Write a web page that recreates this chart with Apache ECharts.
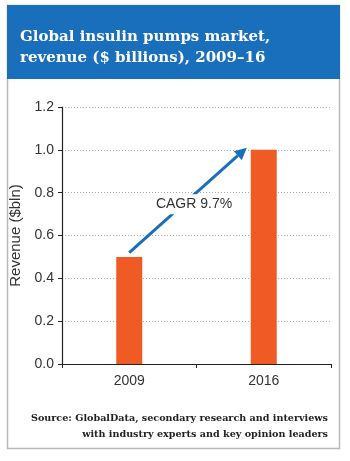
<!DOCTYPE html>
<html>
<head>
<meta charset="utf-8">
<script src="https://cdn.jsdelivr.net/npm/echarts@6/dist/echarts.min.js"></script>
<style>
html, body { margin: 0; padding: 0; background: #fff; }
#chart { width: 350px; height: 461px; }
</style>
</head>
<body>
<div id="chart"></div>
<script>
// data
var years = ['2009', '2016'];
var revenue = [0.5, 1.0];
var cagrLabel = 'CAGR 9.7%';
var arrowFrom = ['2009', 0.52];
var arrowTo = ['2016', 1.01];

var chart = echarts.init(document.getElementById('chart'));

var option = {
    animation: false,
    title: {
        text: 'Global insulin pumps market,\nrevenue ($ billions), 2009\u201316',
        left: 15,
        top: 22,
        textStyle: {
            color: '#fff',
            fontFamily: 'DejaVu Serif',
            fontWeight: 'bold',
            fontSize: 15,
            lineHeight: 21
        }
    },
    grid: {
        left: 62,
        right: 19,
        top: 107,
        bottom: 97
    },
    xAxis: {
        type: 'category',
        data: years,
        axisLine: { lineStyle: { color: '#222', width: 1.2 } },
        axisTick: { show: true, length: 4, lineStyle: { color: '#222' } },
        axisLabel: { color: '#333', fontSize: 14, fontFamily: 'Liberation Sans', margin: 10 }
    },
    yAxis: {
        type: 'value',
        min: 0,
        max: 1.2,
        interval: 0.2,
        name: 'Revenue ($bln)',
        nameLocation: 'middle',
        nameGap: 32,
        nameTextStyle: { color: '#333', fontSize: 15, fontFamily: 'Liberation Sans' },
        axisLine: { show: true, lineStyle: { color: '#222', width: 1.2 } },
        axisTick: { show: true, length: 4, lineStyle: { color: '#222' } },
        axisLabel: {
            color: '#333', fontSize: 14, fontFamily: 'Liberation Sans', margin: 8,
            formatter: function (v) { return v.toFixed(1); }
        },
        splitLine: { lineStyle: { color: '#aaa', type: [1, 2], width: 1 } }
    },
    series: [{
        type: 'bar',
        data: revenue,
        barWidth: 26,
        itemStyle: { color: '#f05a24' }
    }],
    graphic: []
};

chart.setOption(option);

// frame, header and annotations
var p1 = chart.convertToPixel({ seriesIndex: 0 }, arrowFrom);
var p2 = chart.convertToPixel({ seriesIndex: 0 }, arrowTo);
p2[0] -= 17;
var ang = Math.atan2(p2[1] - p1[1], p2[0] - p1[0]);
var hl = 12, hw = 6;
var bx = p2[0] - hl * Math.cos(ang), by = p2[1] - hl * Math.sin(ang);
var head = [
    [p2[0], p2[1]],
    [bx + hw * Math.sin(ang), by - hw * Math.cos(ang)],
    [bx - hw * Math.sin(ang), by + hw * Math.cos(ang)]
];

chart.setOption({
    graphic: [
        {
            type: 'rect', z: -10, silent: true,
            shape: { x: 7.5, y: 5.5, width: 332, height: 443 },
            style: { fill: '#fff', stroke: '#b8b8b8', lineWidth: 1.5 }
        },
        {
            type: 'rect', z: -5, silent: true,
            shape: { x: 7, y: 5, width: 333, height: 74 },
            style: { fill: '#1a6fbd' }
        },
        {
            type: 'line', z: 10,
            shape: { x1: p1[0], y1: p1[1], x2: bx, y2: by },
            style: { stroke: '#1a6fbd', lineWidth: 3 }
        },
        {
            type: 'polygon', z: 10,
            shape: { points: head },
            style: { fill: '#1a6fbd' }
        },
        {
            type: 'text', z: 11,
            x: (p1[0] + p2[0]) / 2 + 6, y: (p1[1] + p2[1]) / 2 + 4,
            style: {
                text: cagrLabel, fill: '#333', fontSize: 14, fontFamily: 'Liberation Sans',
                align: 'center', verticalAlign: 'middle',
                backgroundColor: '#fff', padding: [3, 2]
            }
        },
        {
            type: 'text', z: 11,
            x: 328, y: 410,
            style: {
                text: 'Source: GlobalData, secondary research and interviews\nwith industry experts and key opinion leaders',
                fill: '#222', fontSize: 9.6, fontFamily: 'DejaVu Serif', fontWeight: 'bold',
                align: 'right', lineHeight: 16
            }
        }
    ]
});

window.addEventListener('resize', function () {
    chart.resize();
});
</script>
</body>
</html>
